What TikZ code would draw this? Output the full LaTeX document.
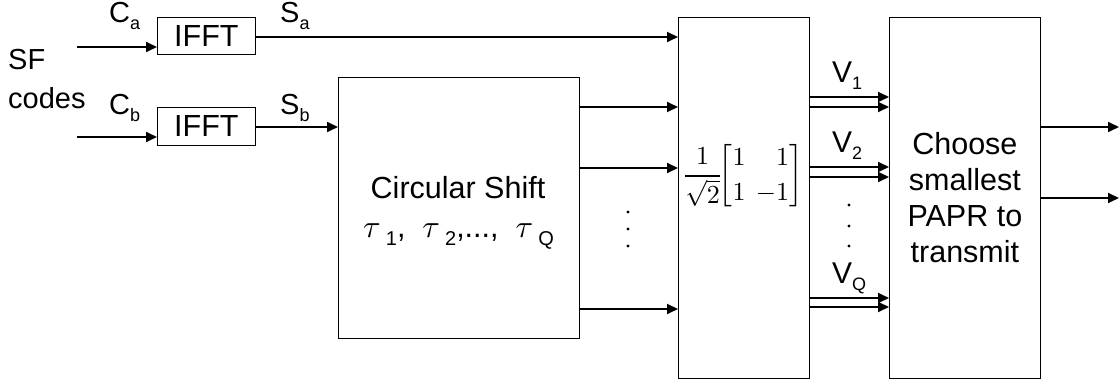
\documentclass[tikz,border=0pt]{standalone}
\usepackage{amsmath}
\usepackage{graphicx}
\usepackage{fontspec}
\setmainfont{Liberation Serif}
\setsansfont{Liberation Sans}
\usetikzlibrary{arrows.meta}
\newcommand{\lsub}[1]{\raisebox{-7pt}{\fontsize{18}{18}\selectfont #1}}
\newcommand{\tsub}[1]{\raisebox{-8pt}{\fontsize{20}{20}\selectfont #1}}
\newcommand{\tauc}{{\fontsize{10}{12}\selectfont\scalebox{3.2}{$\tau$}}}
\begin{document}
\begin{tikzpicture}[x=1pt,y=-1pt,
  blk/.style={draw,line width=0.8pt,inner sep=0pt,anchor=north west},
  arr/.style={line width=1.8pt,-{Triangle[length=11pt,width=10pt]}},
  lbl/.style={anchor=base west,inner sep=0pt,font=\sffamily\fontsize{29}{30}\selectfont},
  vlbl/.style={anchor=base west,inner sep=0pt,font=\sffamily\fontsize{30}{30}\selectfont},
  txt/.style={inner sep=0pt,font=\sffamily\fontsize{30.5}{36}\selectfont},
  dot/.style={circle,fill,inner sep=0pt,minimum size=3.4pt}]
\useasboundingbox (0,0) rectangle (1119,385);
% blocks
\node[blk,txt,anchor=north west,minimum width=98pt,minimum height=37pt] (ifa) at (157,17) {IFFT};
\node[blk,txt,anchor=north west,minimum width=98pt,minimum height=38pt] (ifb) at (157,107) {IFFT};
\node[blk,minimum width=241pt,minimum height=261pt] (cs) at (338,77) {};
\node[blk,minimum width=131pt,minimum height=361pt] (mx) at (678,17) {};
\node[blk,txt,anchor=north west,align=center,minimum width=151pt,minimum height=361pt] (ch) at (889,17) {Choose\\smallest\\PAPR to\\transmit};
% texts in blocks
\node[txt,anchor=base] (cst) at (458,198) {Circular Shift};
\node[txt,anchor=base west] (tau) at (363,237) {\tauc\,\tsub{1}, \ \tauc\,\tsub{2},..., \ \tauc\,\tsub{Q}};
\node[inner sep=0pt,anchor=west,font=\fontsize{10}{12}\selectfont] (mat) at (682,176)
  {\scalebox{2.6}{$\renewcommand{\arraystretch}{1.1}\dfrac{1}{\sqrt{2}}\!\!\left[\begin{array}{@{}c@{\hspace{4pt}}r@{}}1&1\\1&{-}1\end{array}\right]$}};
% labels
\node[lbl] (sf) at (8,70) {SF};
\node[lbl] (codes) at (8,109) {codes};
\node[lbl] (lca) at (109,23) {C\lsub{a}};
\node[lbl] (lsa) at (280,23) {S\lsub{a}};
\node[lbl] (lcb) at (109,115) {C\lsub{b}};
\node[lbl] (lsb) at (280,115) {S\lsub{b}};
\node[vlbl] (v1) at (832,83) {V\lsub{1}};
\node[vlbl] (v2) at (832,153) {V\lsub{2}};
\node[vlbl] (vq) at (832,283) {V\lsub{Q}};
% inputs
\coordinate (ina) at (77,47);
\coordinate (inb) at (77,137);
\draw[arr] (ina) -- (ina -| ifa.west);
\draw[arr] (inb) -- (inb -| ifb.west);
% IFFT outputs
\coordinate (sa) at (255,37);
\coordinate (sb) at (255,127);
\draw[arr] (sa) -- (sa -| mx.west);
\draw[arr] (sb) -- (sb -| cs.west);
% circular shift outputs
\foreach \y/\n in {107/o1,168/o2,309/o3}{
  \coordinate (\n) at (579,\y);
  \draw[arr] (\n) -- (\n -| mx.west);
}
% double arrows
\foreach \y/\n in {97/p1,107/p2,167/p3,177/p4,298/p5,307/p6}{
  \coordinate (\n) at (809,\y);
  \draw[arr] (\n) -- (\n -| ch.west);
}
% outputs
\coordinate (q1) at (1040,127);
\coordinate (q2) at (1040,198);
\coordinate (e1) at (1119,127);
\coordinate (e2) at (1119,198);
\draw[arr] (q1) -- (e1);
\draw[arr] (q2) -- (e2);
% dots
\node[dot] (dl1) at (628,212) {};
\node[dot] (dl2) at (628,229) {};
\node[dot] (dl3) at (628,246) {};
\node[dot] (dr1) at (849,205) {};
\node[dot] (dr2) at (849,226) {};
\node[dot] (dr3) at (849,246) {};
\end{tikzpicture}
\end{document}
